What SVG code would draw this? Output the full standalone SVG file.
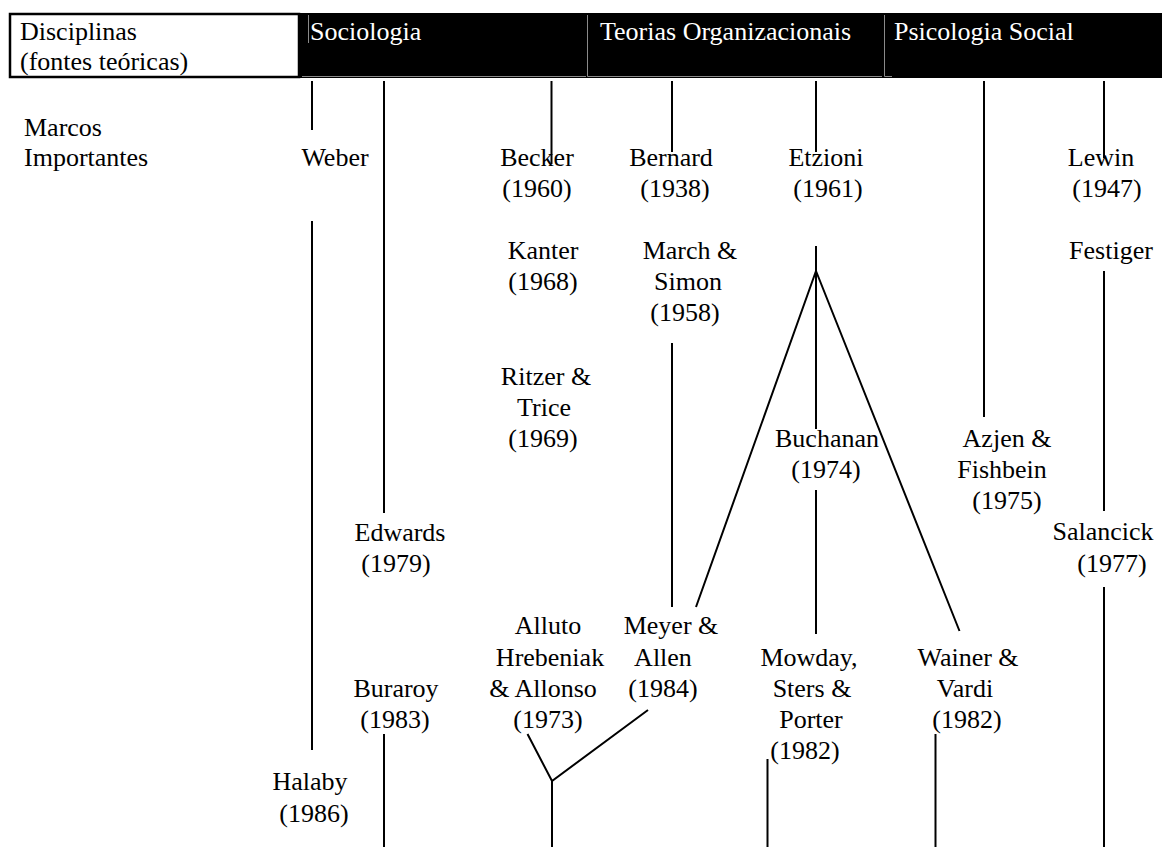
<svg xmlns="http://www.w3.org/2000/svg" width="1162" height="850" viewBox="0 0 1162 850">
<style>
text{font-family:"Liberation Serif","Times New Roman",serif;font-size:26px;fill:#000}
.c{text-anchor:middle}
.w{fill:#fff}
.ln{stroke:#000;stroke-width:2;fill:none}
.cell{stroke:#8a8a8a;stroke-width:1;fill:none}
</style>
<rect width="1162" height="850" fill="#fff"/>
<g id="header">
<rect x="299" y="13" width="863" height="65" fill="#000"/>
<rect x="10" y="14" width="289" height="63" fill="#fff" stroke="#000" stroke-width="2.5"/>
<path class="cell" d="M308.5 15V43M302 76.5H586M587.5 15V76.5H882M884.5 15V76.5H892"/>
<text x="20" y="40">Disciplinas</text>
<text x="20" y="70">(fontes teóricas)</text>
<text class="w" x="310" y="40">Sociologia</text>
<text class="w" x="600" y="40">Teorias Organizacionais</text>
<text class="w" x="894" y="40">Psicologia Social</text>
</g>
<g id="connectors" class="ln">
<path d="M312 81V130M312 221V750"/>
<path d="M384 81V513M384 734V847"/>
<path d="M551.5 81V164"/>
<path d="M672 81V152M672 343V607"/>
<path d="M816 81V152M816 246V429M816 271L696 607M816 271L959.5 631"/>
<path d="M816 490V634"/>
<path d="M767.5 759V847"/>
<path d="M984 81V417"/>
<path d="M1104 81V158M1104 271V511M1104 587V847"/>
<path d="M527.5 734L552 781L648 710M552 781V847"/>
<path d="M935.5 734V847"/>
</g>
<g id="marcos"><text x="24" y="136">Marcos</text><text x="24" y="166">Importantes</text></g>
<g id="weber"><text class="c" x="335" y="166">Weber</text></g>
<g id="becker"><text class="c" x="537" y="166">Becker</text><text class="c" x="537" y="197">(1960)</text></g>
<g id="bernard"><text class="c" x="671" y="166">Bernard</text><text class="c" x="675" y="197">(1938)</text></g>
<g id="etzioni"><text class="c" x="826" y="166">Etzioni</text><text class="c" x="828" y="197">(1961)</text></g>
<g id="lewin"><text class="c" x="1101" y="166">Lewin</text><text class="c" x="1107" y="197">(1947)</text></g>
<g id="kanter"><text class="c" x="543" y="259">Kanter</text><text class="c" x="543" y="290">(1968)</text></g>
<g id="march"><text class="c" x="690" y="259">March &amp;</text><text class="c" x="688" y="290">Simon</text><text class="c" x="685" y="321">(1958)</text></g>
<g id="festiger"><text class="c" x="1111" y="259">Festiger</text></g>
<g id="ritzer"><text class="c" x="546" y="385">Ritzer &amp;</text><text class="c" x="544" y="416">Trice</text><text class="c" x="543" y="447">(1969)</text></g>
<g id="buchanan"><text class="c" x="827" y="447">Buchanan</text><text class="c" x="826" y="478">(1974)</text></g>
<g id="azjen"><text class="c" x="1007" y="447">Azjen &amp;</text><text class="c" x="1002" y="478">Fishbein</text><text class="c" x="1007" y="509">(1975)</text></g>
<g id="edwards"><text class="c" x="400" y="541">Edwards</text><text class="c" x="396" y="572">(1979)</text></g>
<g id="salancick"><text class="c" x="1103" y="540">Salancick</text><text class="c" x="1112" y="572">(1977)</text></g>
<g id="alluto"><text class="c" x="548" y="634">Alluto</text><text class="c" x="550" y="666">Hrebeniak</text><text class="c" x="543" y="697">&amp; Allonso</text><text class="c" x="548" y="728">(1973)</text></g>
<g id="meyer"><text class="c" x="671" y="634">Meyer &amp;</text><text class="c" x="663" y="666">Allen</text><text class="c" x="663" y="697">(1984)</text></g>
<g id="mowday"><text class="c" x="809" y="666">Mowday,</text><text class="c" x="812" y="697">Sters &amp;</text><text class="c" x="811" y="728">Porter</text><text class="c" x="805" y="759">(1982)</text></g>
<g id="wainer"><text class="c" x="968" y="666">Wainer &amp;</text><text class="c" x="965" y="697">Vardi</text><text class="c" x="967" y="728">(1982)</text></g>
<g id="buraroy"><text class="c" x="396" y="697">Buraroy</text><text class="c" x="395" y="728">(1983)</text></g>
<g id="halaby"><text class="c" x="310" y="790">Halaby</text><text class="c" x="314" y="822">(1986)</text></g>
</svg>
